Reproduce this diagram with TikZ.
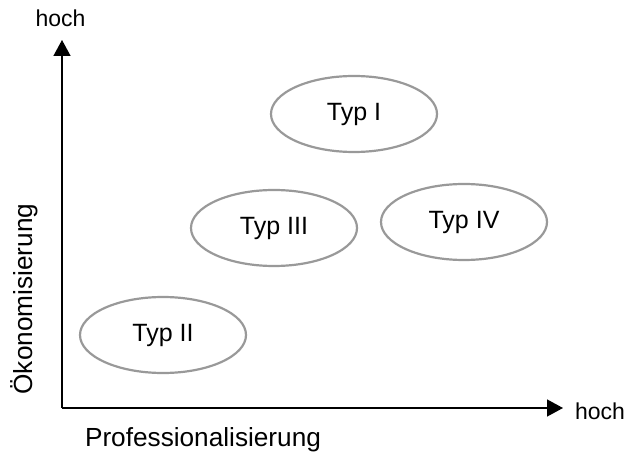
\documentclass[tikz,border=0pt]{standalone}
\usepackage{fontspec}
\setmainfont{Liberation Sans}
\usetikzlibrary{shapes.geometric,arrows.meta}
\begin{document}
\begin{tikzpicture}[x=1pt,y=-1pt,
  typ/.style={ellipse,draw=black!40,line width=2.2pt,minimum width=166pt,minimum height=76pt,inner sep=0pt,font=\fontsize{25}{28}\selectfont},
  axis/.style={line width=1.5pt,-{Triangle[length=16pt,width=17pt]}},
  lbl/.style={inner sep=0pt,font=\fontsize{26.2}{29}\selectfont},
  hochlbl/.style={inner sep=0pt,font=\fontsize{23}{26}\selectfont}]
\useasboundingbox (0,0) rectangle (626,454);
\coordinate (o) at (62,408);
\coordinate (ytip) at (62,40);
\coordinate (xtip) at (563,408);
\draw[axis] (o) -- (ytip);
\draw[axis] (o) -- (xtip);
\node[hochlbl] (hy) at (60.5,18) {hoch};
\node[hochlbl] (hx) at (600,411) {hoch};
\node[lbl] (px) at (203,440) {Professionalisierung};
\node[lbl,rotate=90] (oy) at (24,299) {Ökonomisierung};
\node[typ] (t1) at (354,114) {Typ I};
\node[typ] (t3) at (274,228) {Typ III};
\node[typ] (t4) at (464,222) {Typ IV};
\node[typ] (t2) at (163,335) {Typ II};
\end{tikzpicture}
\end{document}
